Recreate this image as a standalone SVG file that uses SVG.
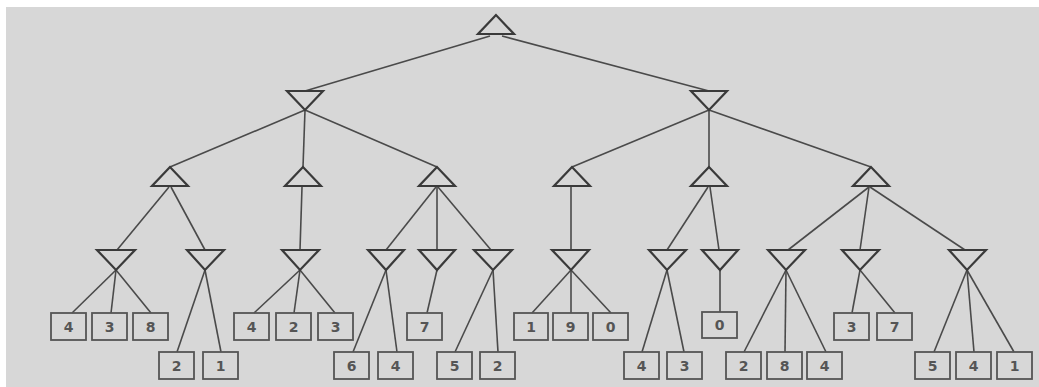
<svg xmlns="http://www.w3.org/2000/svg" width="1039" height="387" viewBox="0 0 1039 387">
<style>
.bg{fill:#d7d7d7}
.tri{fill:none;stroke:#3a3a3a;stroke-width:2.2;stroke-linejoin:miter}
.e{stroke:#4a4a4a;stroke-width:1.6;fill:none}
.box{fill:none;stroke:#555;stroke-width:1.8}
.lbl{font-family:"DejaVu Sans",sans-serif;font-size:14px;font-weight:bold;fill:#555;text-anchor:middle}
</style>
<rect x="0" y="0" width="1039" height="387" fill="#ffffff"/>
<rect class="bg" x="6" y="7" width="1033" height="380"/>
<g id="connectors">
<line class="e" x1="490" y1="36" x2="305" y2="91"/>
<line class="e" x1="502" y1="36" x2="709" y2="91"/>
<line class="e" x1="305" y1="110" x2="170" y2="167"/>
<line class="e" x1="305" y1="110" x2="303" y2="167"/>
<line class="e" x1="305" y1="110" x2="437" y2="167"/>
<line class="e" x1="709" y1="110" x2="572" y2="167"/>
<line class="e" x1="709" y1="110" x2="709" y2="167"/>
<line class="e" x1="709" y1="110" x2="871" y2="167"/>
<line class="e" x1="169" y1="187" x2="117" y2="250"/>
<line class="e" x1="171" y1="187" x2="205" y2="250"/>
<line class="e" x1="302" y1="187" x2="300" y2="250"/>
<line class="e" x1="436" y1="187" x2="386" y2="250"/>
<line class="e" x1="437" y1="187" x2="437" y2="250"/>
<line class="e" x1="438" y1="187" x2="491" y2="250"/>
<line class="e" x1="571" y1="187" x2="571" y2="250"/>
<line class="e" x1="708" y1="187" x2="667" y2="250"/>
<line class="e" x1="710" y1="187" x2="719" y2="250"/>
<line class="e" x1="869" y1="187" x2="788" y2="250"/>
<line class="e" x1="869" y1="187" x2="860" y2="250"/>
<line class="e" x1="870" y1="187" x2="965" y2="250"/>
<line class="e" x1="116" y1="270" x2="72" y2="313"/>
<line class="e" x1="116" y1="270" x2="111" y2="313"/>
<line class="e" x1="116" y1="270" x2="151" y2="313"/>
<line class="e" x1="205" y1="270" x2="177" y2="352"/>
<line class="e" x1="205" y1="270" x2="221" y2="352"/>
<line class="e" x1="300" y1="270" x2="254" y2="313"/>
<line class="e" x1="300" y1="270" x2="294" y2="313"/>
<line class="e" x1="300" y1="270" x2="335" y2="313"/>
<line class="e" x1="386" y1="270" x2="353" y2="352"/>
<line class="e" x1="386" y1="270" x2="397" y2="352"/>
<line class="e" x1="437" y1="270" x2="427" y2="313"/>
<line class="e" x1="493" y1="270" x2="455" y2="352"/>
<line class="e" x1="493" y1="270" x2="498" y2="352"/>
<line class="e" x1="571" y1="270" x2="532" y2="313"/>
<line class="e" x1="571" y1="270" x2="571" y2="313"/>
<line class="e" x1="571" y1="270" x2="611" y2="313"/>
<line class="e" x1="667" y1="270" x2="642" y2="352"/>
<line class="e" x1="667" y1="270" x2="684" y2="352"/>
<line class="e" x1="720" y1="270" x2="720" y2="312"/>
<line class="e" x1="786" y1="270" x2="744" y2="352"/>
<line class="e" x1="786" y1="270" x2="785" y2="352"/>
<line class="e" x1="786" y1="270" x2="826" y2="352"/>
<line class="e" x1="860" y1="270" x2="852" y2="313"/>
<line class="e" x1="860" y1="270" x2="895" y2="313"/>
<line class="e" x1="967" y1="270" x2="934" y2="352"/>
<line class="e" x1="967" y1="270" x2="974" y2="352"/>
<line class="e" x1="967" y1="270" x2="1014" y2="352"/>
</g>
<g id="root"><polygon class="tri" points="496,15 478,34 514,34"/></g>
<g id="n1a"><polygon class="tri" points="287,91 323,91 305,110"/></g>
<g id="n1b"><polygon class="tri" points="691,91 727,91 709,110"/></g>
<g id="n2a"><polygon class="tri" points="170,167 152,186 188,186"/></g>
<g id="n2b"><polygon class="tri" points="303,167 285,186 321,186"/></g>
<g id="n2c"><polygon class="tri" points="437,167 419,186 455,186"/></g>
<g id="n2d"><polygon class="tri" points="572,167 554,186 590,186"/></g>
<g id="n2e"><polygon class="tri" points="709,167 691,186 727,186"/></g>
<g id="n2f"><polygon class="tri" points="871,167 853,186 889,186"/></g>
<g id="n3a"><polygon class="tri" points="97,250 135,250 116,270"/></g>
<g id="n3b"><polygon class="tri" points="187,250 224,250 205,270"/></g>
<g id="n3c"><polygon class="tri" points="282,250 319,250 300,270"/></g>
<g id="n3d"><polygon class="tri" points="368,250 404,250 386,270"/></g>
<g id="n3e"><polygon class="tri" points="419,250 455,250 437,270"/></g>
<g id="n3f"><polygon class="tri" points="474,250 512,250 493,270"/></g>
<g id="n3g"><polygon class="tri" points="552,250 589,250 571,270"/></g>
<g id="n3h"><polygon class="tri" points="649,250 686,250 667,270"/></g>
<g id="n3i"><polygon class="tri" points="702,250 738,250 720,270"/></g>
<g id="n3j"><polygon class="tri" points="768,250 805,250 786,270"/></g>
<g id="n3k"><polygon class="tri" points="842,250 879,250 860,270"/></g>
<g id="n3l"><polygon class="tri" points="949,250 986,250 967,270"/></g>
<g id="l1"><rect class="box" x="51" y="313" width="35" height="27"/><text class="lbl" x="68.5" y="332">4</text></g>
<g id="l2"><rect class="box" x="92" y="313" width="35" height="27"/><text class="lbl" x="109.5" y="332">3</text></g>
<g id="l3"><rect class="box" x="133" y="313" width="35" height="27"/><text class="lbl" x="150.5" y="332">8</text></g>
<g id="l4"><rect class="box" x="159" y="352" width="35" height="27"/><text class="lbl" x="176.5" y="371">2</text></g>
<g id="l5"><rect class="box" x="203" y="352" width="35" height="27"/><text class="lbl" x="220.5" y="371">1</text></g>
<g id="l6"><rect class="box" x="234" y="313" width="35" height="27"/><text class="lbl" x="251.5" y="332">4</text></g>
<g id="l7"><rect class="box" x="276" y="313" width="35" height="27"/><text class="lbl" x="293.5" y="332">2</text></g>
<g id="l8"><rect class="box" x="318" y="313" width="35" height="27"/><text class="lbl" x="335.5" y="332">3</text></g>
<g id="l9"><rect class="box" x="334" y="352" width="35" height="27"/><text class="lbl" x="351.5" y="371">6</text></g>
<g id="l10"><rect class="box" x="378" y="352" width="35" height="27"/><text class="lbl" x="395.5" y="371">4</text></g>
<g id="l11"><rect class="box" x="407" y="313" width="35" height="27"/><text class="lbl" x="424.5" y="332">7</text></g>
<g id="l12"><rect class="box" x="437" y="352" width="35" height="27"/><text class="lbl" x="454.5" y="371">5</text></g>
<g id="l13"><rect class="box" x="480" y="352" width="35" height="27"/><text class="lbl" x="497.5" y="371">2</text></g>
<g id="l14"><rect class="box" x="514" y="313" width="34" height="27"/><text class="lbl" x="531" y="332">1</text></g>
<g id="l15"><rect class="box" x="553" y="313" width="35" height="27"/><text class="lbl" x="570.5" y="332">9</text></g>
<g id="l16"><rect class="box" x="593" y="313" width="35" height="27"/><text class="lbl" x="610.5" y="332">0</text></g>
<g id="l17"><rect class="box" x="624" y="352" width="35" height="27"/><text class="lbl" x="641.5" y="371">4</text></g>
<g id="l18"><rect class="box" x="667" y="352" width="35" height="27"/><text class="lbl" x="684.5" y="371">3</text></g>
<g id="l19"><rect class="box" x="702" y="312" width="35" height="26"/><text class="lbl" x="719.5" y="330">0</text></g>
<g id="l20"><rect class="box" x="726" y="352" width="35" height="27"/><text class="lbl" x="743.5" y="371">2</text></g>
<g id="l21"><rect class="box" x="767" y="352" width="35" height="27"/><text class="lbl" x="784.5" y="371">8</text></g>
<g id="l22"><rect class="box" x="807" y="352" width="35" height="27"/><text class="lbl" x="824.5" y="371">4</text></g>
<g id="l23"><rect class="box" x="834" y="313" width="35" height="27"/><text class="lbl" x="851.5" y="332">3</text></g>
<g id="l24"><rect class="box" x="877" y="313" width="35" height="27"/><text class="lbl" x="894.5" y="332">7</text></g>
<g id="l25"><rect class="box" x="915" y="352" width="35" height="27"/><text class="lbl" x="932.5" y="371">5</text></g>
<g id="l26"><rect class="box" x="956" y="352" width="35" height="27"/><text class="lbl" x="973.5" y="371">4</text></g>
<g id="l27"><rect class="box" x="997" y="352" width="35" height="27"/><text class="lbl" x="1014.5" y="371">1</text></g>
</svg>
